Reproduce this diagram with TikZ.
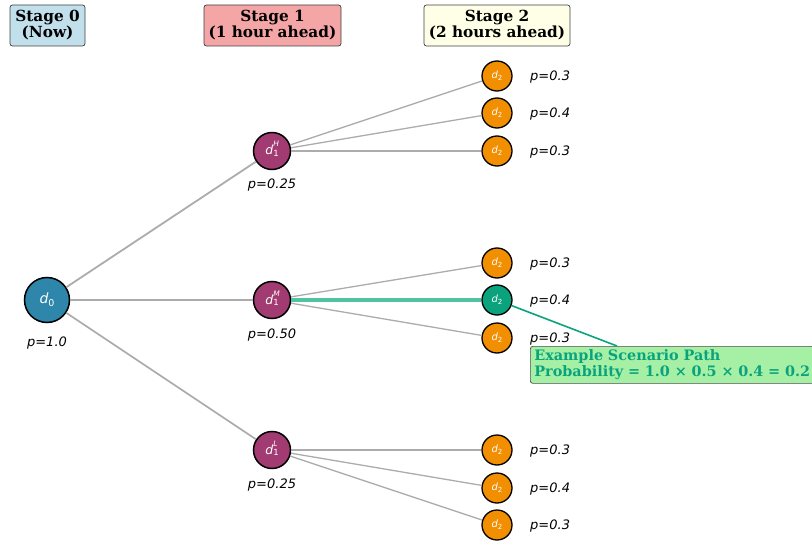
\documentclass[tikz,border=0pt]{standalone}
\usepackage{fontspec}
\setmainfont{DejaVu Sans}
\newfontfamily\serifb{DejaVu Serif}
\definecolor{cblue}{RGB}{46,134,171}
\definecolor{cpurple}{RGB}{162,59,114}
\definecolor{corange}{RGB}{241,143,1}
\definecolor{cgreen}{RGB}{10,163,125}
\definecolor{chl}{RGB}{80,196,160}
\definecolor{cgray}{RGB}{172,172,172}
\definecolor{s0}{RGB}{193,224,235}
\definecolor{s1}{RGB}{244,165,165}
\definecolor{s2}{RGB}{255,255,231}
\definecolor{anbg}{RGB}{166,240,166}
\newcommand{\mylab}[1]{\textit{d}\rlap{\smash{\raisebox{8pt}{\fontsize{7.5}{7.5}\selectfont\itshape #1}}}\raisebox{-1.5pt}{\fontsize{8.5}{8.5}\selectfont 1}}
\begin{document}
\begin{tikzpicture}[x=1pt,y=-1pt,
  stagebox/.style={draw=black!75,rounded corners=2.5pt,line width=0.7pt,align=center,
    font=\serifb\bfseries\fontsize{15.3}{16}\selectfont,inner sep=0pt,minimum height=41pt},
  rootnode/.style={circle,draw=black,line width=1.5pt,fill=cblue,minimum size=45pt,inner sep=0pt,text=white,font=\fontsize{14}{14}\selectfont},
  midnode/.style={circle,draw=black,line width=1.5pt,fill=cpurple,minimum size=37pt,inner sep=0pt,text=white,font=\fontsize{12.5}{12.5}\selectfont},
  leafnode/.style={circle,draw=black,line width=1.3pt,fill=corange,minimum size=30pt,inner sep=0pt,text=white,font=\fontsize{10}{10}\selectfont},
  plab/.style={font=\itshape\fontsize{13}{13}\selectfont,inner sep=0pt},
  edge/.style={draw=cgray,line width=1.8pt},
  edge2/.style={draw=cgray,line width=1.3pt}]
\useasboundingbox (0,0) rectangle (812,543);
\clip (0,0) rectangle (812,543);
% stage headers
\node[stagebox,fill=s0,minimum width=75pt] (st0) at (47.5,25.5) {Stage 0\\(Now)};
\node[stagebox,fill=s1,minimum width=137pt] (st1) at (272.5,25.5) {Stage 1\\(1 hour ahead)};
\node[stagebox,fill=s2,minimum width=146pt] (st2) at (497,25.5) {Stage 2\\(2 hours ahead)};
% nodes
\node[rootnode] (d0) at (47,300) {\textit{d}\raisebox{-3pt}{\fontsize{9.5}{9.5}\selectfont 0}};
\node[midnode] (dH) at (272,151) {\mylab{H}};
\node[midnode] (dM) at (272,300) {\mylab{M}};
\node[midnode] (dL) at (272,450) {\mylab{L}};
\foreach \n/\y in {a/76,b/113,c/151,d/263,f/338,g/450,h/488,i/525}{
  \node[leafnode] (l\n) at (497,\y) {\textit{d}\raisebox{-2pt}{\fontsize{7}{7}\selectfont 2}};
}
\node[leafnode,fill=cgreen] (le) at (497,300) {\textit{d}\raisebox{-2pt}{\fontsize{7}{7}\selectfont 2}};
% edges
\draw[edge] (d0) -- (dH);
\draw[edge] (d0) -- (dM);
\draw[edge] (d0) -- (dL);
\draw[edge2] (dH) -- (la);
\draw[edge2] (dH) -- (lb);
\draw[edge2] (dH) -- (lc);
\draw[edge2] (dM) -- (ld);
\draw[edge2] (dM) -- (lf);
\draw[draw=chl,line width=3.2pt] (dM) -- (le);
\draw[edge2] (dL) -- (lg);
\draw[edge2] (dL) -- (lh);
\draw[edge2] (dL) -- (li);
% probability labels
\node[plab] (p0) at (47,343) {p=1.0};
\node[plab] (pH) at (272,185.5) {p=0.25};
\node[plab] (pM) at (272,335.5) {p=0.50};
\node[plab] (pL) at (272,485.5) {p=0.25};
\foreach \n/\y/\p in {a/76/0.3,b/113/0.4,c/151/0.3,d/263/0.3,e/300/0.4,f/338/0.3,g/450/0.3,h/488/0.4,i/525/0.3}{
  \node[plab,anchor=west] (q\n) at (530,\y+1) {p=\p};
}
% annotation
\coordinate (ann) at (617,346);
\draw[draw=cgreen,line width=1.6pt] (le) -- (ann);
\node[draw=black!70,fill=anbg,rounded corners=2.5pt,line width=0.7pt,anchor=north west,
  minimum width=281pt,minimum height=37pt,align=left,text=cgreen,inner xsep=4pt,inner ysep=0pt,
  font=\serifb\bfseries\fontsize{14.4}{15.5}\selectfont,text width=276pt] (box) at (530,346)
  {Example Scenario Path\\Probability = 1.0 × 0.5 × 0.4 = 0.2};
\end{tikzpicture}
\end{document}
